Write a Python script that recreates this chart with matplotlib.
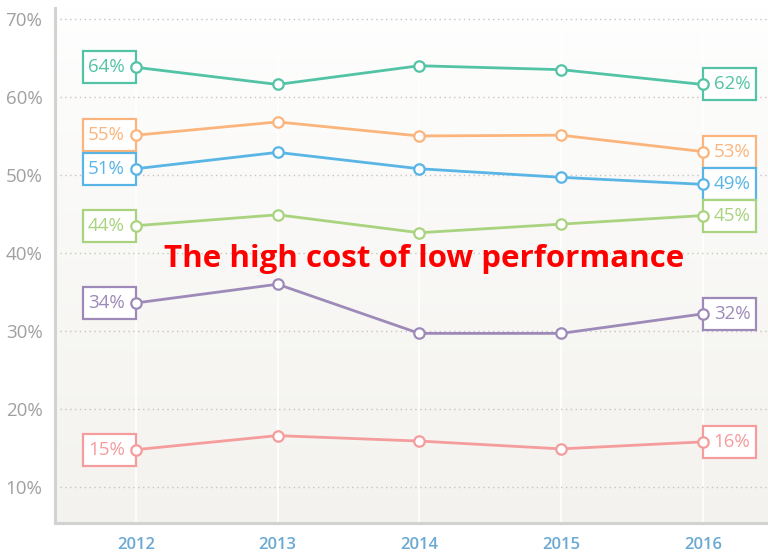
import numpy as np
import matplotlib.pyplot as plt
from matplotlib.patches import Rectangle

# data
years = [2012, 2013, 2014, 2015, 2016]
teal = [63.8, 61.6, 64.0, 63.5, 61.6]
orange = [55.1, 56.8, 55.0, 55.1, 53.0]
blue = [50.8, 52.9, 50.8, 49.7, 48.8]
green = [43.5, 44.9, 42.6, 43.7, 44.8]
purple = [33.6, 36.0, 29.7, 29.7, 32.2]
red = [14.8, 16.6, 15.9, 14.9, 15.8]

series = [teal, orange, blue, green, purple, red]
colors = ['#52c3a5', '#fbb57c', '#58b5e6', '#a9d37f', '#9d8ab8', '#f59c9c']
left_labels = ['64%', '55%', '51%', '44%', '34%', '15%']
right_labels = ['62%', '53%', '49%', '45%', '32%', '16%']

fig = plt.figure(figsize=(7.68, 5.54), dpi=100)
ax = fig.add_axes([55/768, 31/554, 713/768, 515/554])

ax.set_xlim(2011.43, 2016.46)
ax.set_ylim(5.4, 71.4)

# soft background gradient, white at top to warm gray at bottom
grad = np.linspace(0, 1, 256).reshape(-1, 1)
top = np.array([1.0, 1.0, 1.0])
bot = np.array([0.955, 0.951, 0.935])
img = top + (bot - top) * grad[..., None] ** 0.8
ax.imshow(img, extent=[0, 1, 0, 1], transform=ax.transAxes, aspect='auto', zorder=0)

# vertical faint lines at years
for yr in years:
    ax.axvline(yr, color='white', lw=1.2, zorder=1)

# horizontal dotted gridlines
for v in range(10, 80, 10):
    ax.axhline(v, color='#c4c4c4', lw=1, ls=(0, (1, 2.5)), zorder=1)

bw = 0.374   # box width in years
bh = 4.1     # box height in %
for vals, c, ll, rl in zip(series, colors, left_labels, right_labels):
    ax.plot(years, vals, color=c, lw=2, marker='o', ms=7.5, mfc='white',
            mec=c, mew=1.6, zorder=4)
    # left label box
    y0 = vals[0]
    ax.add_patch(Rectangle((years[0] - bw, y0 - bh/2), bw, bh, fc='white',
                           ec=c, lw=1.6, zorder=3))
    ax.text(years[0] - bw/2 - 0.02, y0, ll, color=c, fontsize=13.5,
            family='Open Sans', ha='center', va='center', zorder=5)
    # right label box
    y1 = vals[-1]
    ax.add_patch(Rectangle((years[-1], y1 - bh/2), bw, bh, fc='white',
                           ec=c, lw=1.6, zorder=3))
    ax.text(years[-1] + bw/2 + 0.02, y1, rl, color=c, fontsize=13.5,
            family='Open Sans', ha='center', va='center', zorder=5)

ax.set_yticks(range(10, 80, 10))
ax.set_yticklabels(['%d%%' % v for v in range(10, 80, 10)], color='#a0a0a0',
                   fontsize=13.5, family='Open Sans')
ax.set_xticks(years)
ax.set_xticklabels([str(y) for y in years], color='#6aa9d3', fontsize=12,
                   family='Open Sans', fontweight='semibold')
ax.tick_params(length=0, pad=9)
ax.tick_params(axis='x', pad=10)

for s in ['top', 'right']:
    ax.spines[s].set_visible(False)
for s in ['left', 'bottom']:
    ax.spines[s].set_color('#d2d2d2')
    ax.spines[s].set_linewidth(2.2)

fig.text(424/768, 1 - 259/554, 'The high cost of low performance',
         color='#ff0000', fontsize=22.5, fontweight='bold', family='Open Sans',
         ha='center', va='center', zorder=10)

fig.savefig('out.png', dpi=100)
